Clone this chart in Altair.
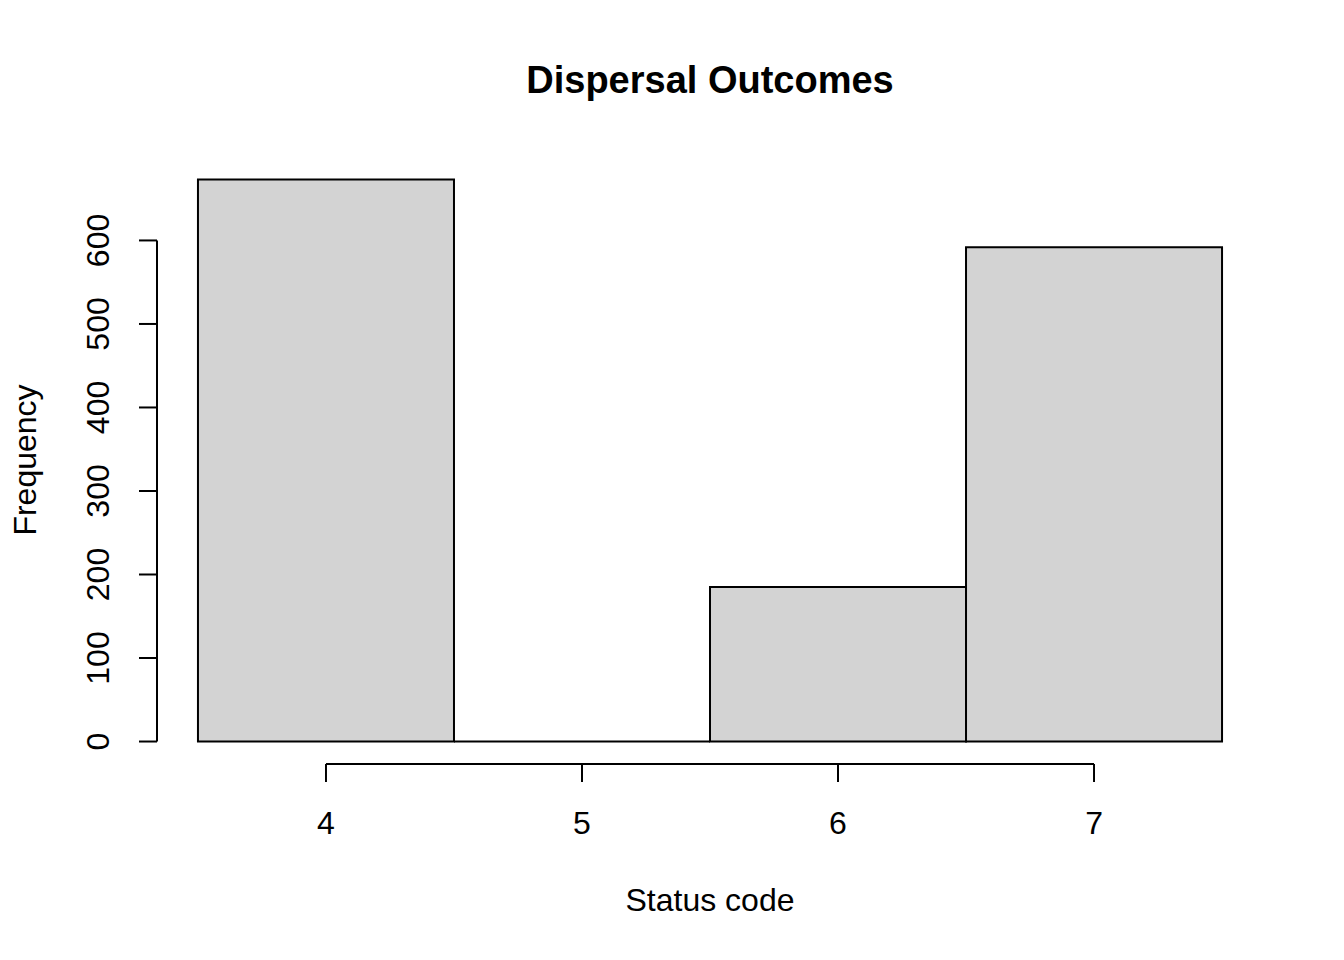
import altair as alt
import pandas as pd

# Histogram data
bin_start = [3.5, 4.5, 5.5, 6.5]
bin_end = [4.5, 5.5, 6.5, 7.5]
counts = [673, 0, 185, 592]

x_ticks = [4, 5, 6, 7]
y_ticks = [0, 100, 200, 300, 400, 500, 600]

title_text = "Dispersal Outcomes"
x_title = "Status code"
y_title = "Frequency"

FONT = "Liberation Sans"
W, H = 1106, 607

bars_df = pd.DataFrame({"start": bin_start, "end": bin_end, "count": counts})
xt_df = pd.DataFrame({"v": x_ticks, "label": [str(v) for v in x_ticks]})
yt_df = pd.DataFrame({"v": y_ticks, "label": [str(v) for v in y_ticks]})

ymax = max(counts)
xs = alt.Scale(domain=[3.5 - 0.04 * 4, 7.5 + 0.04 * 4], nice=False, zero=False)
ys = alt.Scale(domain=[-0.04 * ymax, ymax * 1.04], nice=False, zero=False)

bars = alt.Chart(bars_df).mark_rect(
    fill="#d3d3d3", stroke="black", strokeWidth=2
).encode(
    x=alt.X("start:Q", scale=xs, axis=None),
    x2="end:Q",
    y=alt.Y("count:Q", scale=ys, axis=None),
    y2=alt.datum(0),
)

# y axis
y_dom = alt.Chart(pd.DataFrame({"a": [min(y_ticks)], "b": [max(y_ticks)]})).mark_rule(
    color="black", strokeWidth=2
).encode(x=alt.value(0), y=alt.Y("a:Q", scale=ys, axis=None), y2="b:Q")
y_tk = alt.Chart(yt_df).mark_rule(color="black", strokeWidth=2).encode(
    x=alt.value(0), x2=alt.value(-18), y=alt.Y("v:Q", scale=ys, axis=None)
)
y_lb = alt.Chart(yt_df).mark_text(
    font=FONT, fontSize=32, angle=270, align="center", baseline="middle", color="black"
).encode(x=alt.value(-58), y=alt.Y("v:Q", scale=ys, axis=None), text="label:N")

# x axis
x_dom = alt.Chart(pd.DataFrame({"a": [min(x_ticks)], "b": [max(x_ticks)]})).mark_rule(
    color="black", strokeWidth=2
).encode(y=alt.value(H), x=alt.X("a:Q", scale=xs, axis=None), x2="b:Q")
x_tk = alt.Chart(xt_df).mark_rule(color="black", strokeWidth=2).encode(
    y=alt.value(H), y2=alt.value(H + 18), x=alt.X("v:Q", scale=xs, axis=None)
)
x_lb = alt.Chart(xt_df).mark_text(
    font=FONT, fontSize=32, align="center", baseline="middle", color="black"
).encode(y=alt.value(H + 60), x=alt.X("v:Q", scale=xs, axis=None), text="label:N")

# titles
t_main = alt.Chart(pd.DataFrame({"t": [title_text]})).mark_text(
    font=FONT, fontSize=38, fontWeight="bold", align="center", baseline="middle", color="black"
).encode(x=alt.value(553), y=alt.value(-75), text="t:N")
t_x = alt.Chart(pd.DataFrame({"t": [x_title]})).mark_text(
    font=FONT, fontSize=32, align="center", baseline="middle", color="black"
).encode(x=alt.value(553), y=alt.value(744), text="t:N")
t_y = alt.Chart(pd.DataFrame({"t": [y_title]})).mark_text(
    font=FONT, fontSize=32, angle=270, align="center", baseline="middle", color="black"
).encode(x=alt.value(-131), y=alt.value(303), text="t:N")

chart = alt.layer(
    bars, y_dom, y_tk, y_lb, x_dom, x_tk, x_lb, t_main, t_x, t_y
).properties(
    width=W, height=H,
    autosize=alt.AutoSizeParams(type="none"),
    padding={"left": 149, "top": 149, "right": 73, "bottom": 188},
    background="white",
).configure_view(stroke=None)

chart.save("out.html", embed_options={"renderer": "svg", "actions": False})
